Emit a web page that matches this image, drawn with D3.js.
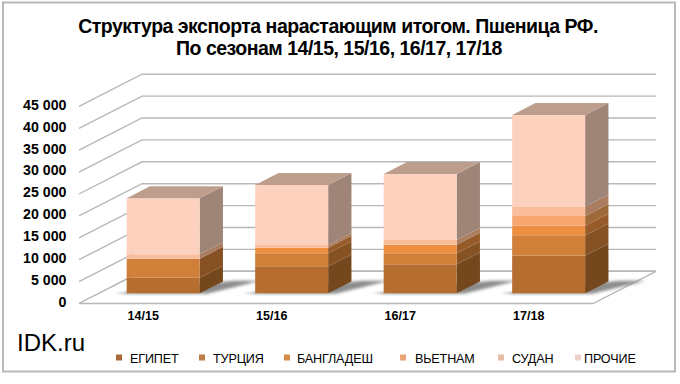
<!DOCTYPE html>
<html>
<head>
<meta charset="utf-8">
<script src="https://cdn.jsdelivr.net/npm/d3@7"></script>
<style>
	html, body { margin: 0; padding: 0; background: #fff; }
	svg { display: block; }
	text { font-family: "Liberation Sans", Arial, sans-serif; fill: #000; }
	.domain { display: none; }
</style>
</head>
<body>
<svg id="chart" width="680" height="384"></svg>
<script>
var seasons = ['14/15', '15/16', '16/17', '17/18'];
var countries = ['ЕГИПЕТ', 'ТУРЦИЯ', 'БАНГЛАДЕШ', 'ВЬЕТНАМ', 'СУДАН', 'ПРОЧИЕ'];

var egypt = [3560, 6160, 6620, 8580];
var turkey = [4340, 2970, 2510, 4660];
var bangladesh = [0, 1280, 1970, 2190];
var vietnam = [0, 0, 0, 2220];
var sudan = [1000, 620, 1070, 2120];
var other = [12800, 13700, 15070, 20940];

var yTicks = [0, 5000, 10000, 15000, 20000, 25000, 30000, 35000, 40000, 45000];

var series = [egypt, turkey, bangladesh, vietnam, sudan, other];

var frontColors = ['#b56d30', '#d08039', '#ee8e41', '#f7a66f', '#fabd9c', '#fcd2be'];
var sideColors = ['#75471c', '#875223', '#965b29', '#a0693a', '#ab7d60', '#9f8578'];
var topColor = '#bd9e8d';
var gridColor = '#b8b8b8';

var floorDx = 63, floorDy = 32.2;
var barStart = 0.316, barDepth = 0.37;

var svg = d3.select('#chart');

var xScale = d3.scaleBand().domain(seasons).range([79, 593]).paddingInner(0.432).paddingOuter(0.216);
var yScale = d3.scaleLinear().domain([0, 45000]).range([303.5, 106.4]);

// depth goes from 0 (front of the floor) to 1 (back wall)
function pt(x, v, depth) {
	return [x + floorDx * depth, yScale(v) - floorDy * depth];
}

function poly(parent, points, fill) {
	return parent.append('polygon')
		.attr('points', points.map(function(p) { return p.join(','); }).join(' '))
		.attr('fill', fill);
}

var defs = svg.append('defs');
defs.append('filter').attr('id', 'blur').attr('x', '-30%').attr('y', '-60%').attr('width', '160%').attr('height', '220%')
	.append('feGaussianBlur').attr('stdDeviation', 1.6);

svg.append('rect')
	.attr('x', 3).attr('y', 2.5).attr('width', 672).attr('height', 369)
	.attr('fill', '#fff').attr('stroke', '#b9b9b9').attr('stroke-width', 2);

// walls
var grid = svg.append('g').attr('fill', 'none').attr('stroke', gridColor).attr('stroke-width', 1.4);
yTicks.forEach(function(v) {
	var a = pt(79, v, 0), b = pt(79, v, 1), c = pt(593, v, 1);
	grid.append('polyline').attr('points', [a, b, c].map(String).join(' '));
});

// floor
var floor = svg.append('g');
poly(floor, [pt(79, 0, 0), pt(79, 0, 1), pt(593, 0, 1), pt(593, 0, 0)], '#fff')
	.attr('stroke', gridColor).attr('stroke-width', 1.4);

// bars
seasons.forEach(function(s, i) {
	var g = svg.append('g');
	var x0 = xScale(s), x1 = x0 + xScale.bandwidth();

	// shadow on the floor
	poly(g, [pt(x0 - 3, 0, barStart - 0.01), pt(x0 + 6, 0, barStart + 0.12), pt(x1 + 10, 0, barStart + barDepth + 0.02),
		pt(x1 + 36, 0, barStart + barDepth + 0.02), pt(x1 + 8, 0, barStart - 0.01)], '#8c8c8c')
		.attr('filter', 'url(#blur)');
	poly(g, [pt(x0 - 11, 0, barStart - 0.01), pt(x0 - 4, 0, barStart + 0.03), pt(x0 + 3, 0, barStart + 0.03), pt(x0 + 3, 0, barStart - 0.01)], '#9a9a9a')
		.attr('filter', 'url(#blur)');

	var sum = 0;
	series.forEach(function(vals, k) {
		var v = vals[i];
		if (!v) return;
		var a = sum, b = sum + v;
		sum = b;
		poly(g, [pt(x1, a, barStart), pt(x1, a, barStart + barDepth), pt(x1, b, barStart + barDepth), pt(x1, b, barStart)], sideColors[k]);
		poly(g, [pt(x0, a, barStart), pt(x1, a, barStart), pt(x1, b, barStart), pt(x0, b, barStart)], frontColors[k]);
	});
	poly(g, [pt(x0, sum, barStart), pt(x1, sum, barStart), pt(x1, sum, barStart + barDepth), pt(x0, sum, barStart + barDepth)], topColor);
});

// axes
var spaced = d3.formatLocale({ decimal: ',', thousands: ' ', grouping: [3], currency: ['', ''] }).format(',');

svg.append('g')
	.attr('transform', 'translate(66.5,0)')
	.call(d3.axisLeft(yScale).tickValues(yTicks).tickSize(0).tickPadding(0).tickFormat(spaced))
	.selectAll('text')
		.attr('font-size', 14.2).attr('font-weight', 'bold').attr('font-family', '"Liberation Sans"').attr('dy', '0.2em');

svg.append('g')
	.attr('transform', 'translate(0,303.5)')
	.call(d3.axisBottom(xScale).tickSize(0).tickPadding(8))
	.selectAll('text')
		.attr('font-size', 12.5).attr('font-weight', 'bold').attr('font-family', '"Liberation Sans"');

// title
var title = svg.append('g').attr('text-anchor', 'middle').attr('font-weight', 'bold').attr('font-size', 19.5);
title.append('text').attr('x', 338).attr('y', 33).attr('letter-spacing', -0.5).text('Структура экспорта нарастающим итогом. Пшеница РФ.');
title.append('text').attr('x', 339).attr('y', 55).attr('letter-spacing', -0.5).text('По сезонам 14/15, 15/16, 16/17, 17/18');

svg.append('text').attr('x', 17).attr('y', 351).attr('font-size', 24).text('IDK.ru');

// legend
var legendX = [116, 199, 284, 400, 498, 575];
var legendText = [130, 213, 297, 415, 512, 584];
var legendMarks = ['#a9683a', '#bd7e47', '#d88c4c', '#e8a678', '#e6bca6', '#ecd2c6'];
var legend = svg.append('g');
countries.forEach(function(c, i) {
	legend.append('rect').attr('x', legendX[i]).attr('y', 354.5).attr('width', 6).attr('height', 6).attr('fill', legendMarks[i]);
	legend.append('text').attr('x', legendText[i]).attr('y', 362.5).attr('font-size', 12.6).attr('letter-spacing', -0.15).text(c);
});
</script>
</body>
</html>
